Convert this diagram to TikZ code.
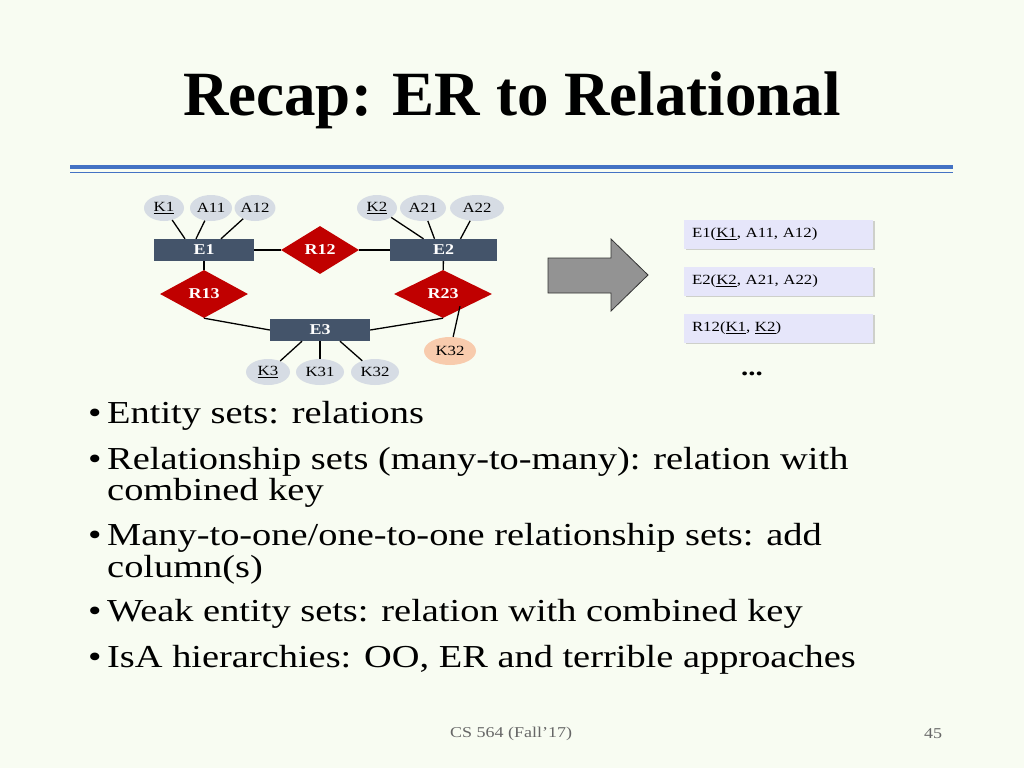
\documentclass[tikz,border=0pt]{standalone}
\usepackage{fontspec}
\setmainfont[FakeStretch=1.2]{Liberation Serif}
\newfontfamily\titlefont{Liberation Serif}
\usetikzlibrary{shapes.geometric,shadows,calc}
\definecolor{bg}{HTML}{F8FCF2}
\definecolor{ent}{HTML}{44546A}
\definecolor{rel}{HTML}{C00000}
\definecolor{att}{HTML}{D6DCE4}
\definecolor{peach}{HTML}{F8CBAD}
\definecolor{tab}{HTML}{E6E6FA}
\definecolor{lineblue}{HTML}{4472C4}
\begin{document}
\begin{tikzpicture}[x=1pt,y=-1pt,
 entity/.style={fill=ent,text=white,font=\fontsize{15}{15}\selectfont\bfseries,minimum height=22pt,inner sep=0pt},
 relat/.style={diamond,fill=rel,text=white,font=\fontsize{15}{15}\selectfont\bfseries,inner sep=0pt,minimum height=48pt},
 attr/.style={ellipse,fill=att,font=\fontsize{14}{14}\selectfont,minimum height=26pt,inner sep=0pt},
 tabl/.style={fill=tab,drop shadow={shadow xshift=1.5pt,shadow yshift=-1.5pt,opacity=.35},minimum width=189pt,minimum height=29pt,text width=173pt,align=left,font=\fontsize{14}{14}\selectfont},
 conn/.style={line width=1.3pt},
 bullet/.style={anchor=west,font=\fontsize{32}{32}\selectfont,inner sep=0pt}]
\fill[bg] (0,0) rectangle (1024,768);
\useasboundingbox (0,0) rectangle (1024,768);
\node[font=\fontsize{63}{63}\titlefont\bfseries] (title) at (512,100) {Recap: ER to Relational};
\coordinate (l1) at (70,167); \coordinate (r1) at (953,167);
\coordinate (l2) at (70,172.5); \coordinate (r2) at (953,172.5);
\draw[lineblue,line width=3.5pt] (l1)--(r1);
\draw[lineblue,line width=1.5pt] (l2)--(r2);
% ER
\node[entity,minimum width=100pt] (E1) at (204,250) {E1};
\node[entity,minimum width=107pt] (E2) at (443.5,250) {E2};
\node[entity,minimum width=100pt] (E3) at (320,330) {E3};
\node[relat,minimum width=78pt] (R12) at (320,250) {R12};
\node[relat,minimum width=88pt] (R13) at (204,294) {R13};
\node[relat,minimum width=98pt] (R23) at (443,294) {R23};
\node[attr,minimum width=40pt] (K1) at (164,208) {\underline{K1}};
\node[attr,minimum width=42pt] (A11) at (211,208) {A11};
\node[attr,minimum width=40pt] (A12) at (255,208) {A12};
\node[attr,minimum width=40pt] (K2) at (377,208) {\underline{K2}};
\node[attr,minimum width=46pt] (A21) at (423,208) {A21};
\node[attr,minimum width=54pt] (A22) at (477,208) {A22};
\node[attr,minimum width=44pt] (K3) at (268,372) {\underline{K3}};
\node[attr,minimum width=48pt] (K31) at (320,372) {K31};
\node[attr,minimum width=48pt] (K32) at (375,372) {K32};
\node[attr,fill=peach,minimum width=52pt,minimum height=28pt] (K32b) at (450,351) {K32};
\draw[conn] (K1) -- ($(E1.north)+(-19,0)$);
\draw[conn] (A11) -- ($(E1.north)+(-8,0)$);
\draw[conn] (A12) -- ($(E1.north)+(17,0)$);
\draw[conn] (K2) -- ($(E2.north)+(-20,0)$);
\draw[conn] (A21) -- ($(E2.north)+(-9,0)$);
\draw[conn] (A22) -- ($(E2.north)+(17,0)$);
\draw[conn] (E1) -- (R12) -- (E2);
\draw[conn] (E1) -- (R13);
\draw[conn] (E2) -- (R23);
\draw[conn] (R13.south) -- (E3.west);
\draw[conn] (R23.south) -- (E3.east);
\draw[conn] ($(R23.south)+(17,-12)$) -- (K32b);
\draw[conn] ($(E3.south)+(-18,0)$) -- (K3);
\draw[conn] (E3.south) -- (K31);
\draw[conn] ($(E3.south)+(20,0)$) -- (K32);
% arrow
\draw[fill=gray!85!white,draw=black!80,line width=0.8pt] (548,258) -- (611,258) -- (611,239) -- (648,275) -- (611,311) -- (611,293) -- (548,293) -- cycle;
% tables
\node[tabl] (T1) at (778.5,234) {E1(\underline{K1}, A11, A12)};
\node[tabl] (T2) at (778.5,281) {E2(\underline{K2}, A21, A22)};
\node[tabl] (T3) at (778.5,328) {R12(\underline{K1}, \underline{K2})};
\node[font=\fontsize{24}{24}\selectfont\bfseries] (dots) at (752,374) {...};
% bullets
\foreach \y/\t in {416/{Entity sets: relations},
 462/{Relationship sets (many-to-many): relation with},
 538/{Many-to-one\slash one-to-one relationship sets: add},
 614/{Weak entity sets: relation with combined key},
 660/{IsA hierarchies: OO, ER and terrible approaches}}
 {\node[bullet] at (88,\y) {•}; \node[bullet] at (107,\y) {\t};}
\node[bullet] (c1) at (107,493) {combined key};
\node[bullet] (c2) at (107,570) {column(s)};
\node[font=\fontsize{15}{15}\selectfont,text=black!60] (foot) at (511,734) {CS 564 (Fall'17)};
\node[font=\fontsize{15}{15}\selectfont,text=black!60] (pg) at (933,734) {45};
\end{tikzpicture}
\end{document}
